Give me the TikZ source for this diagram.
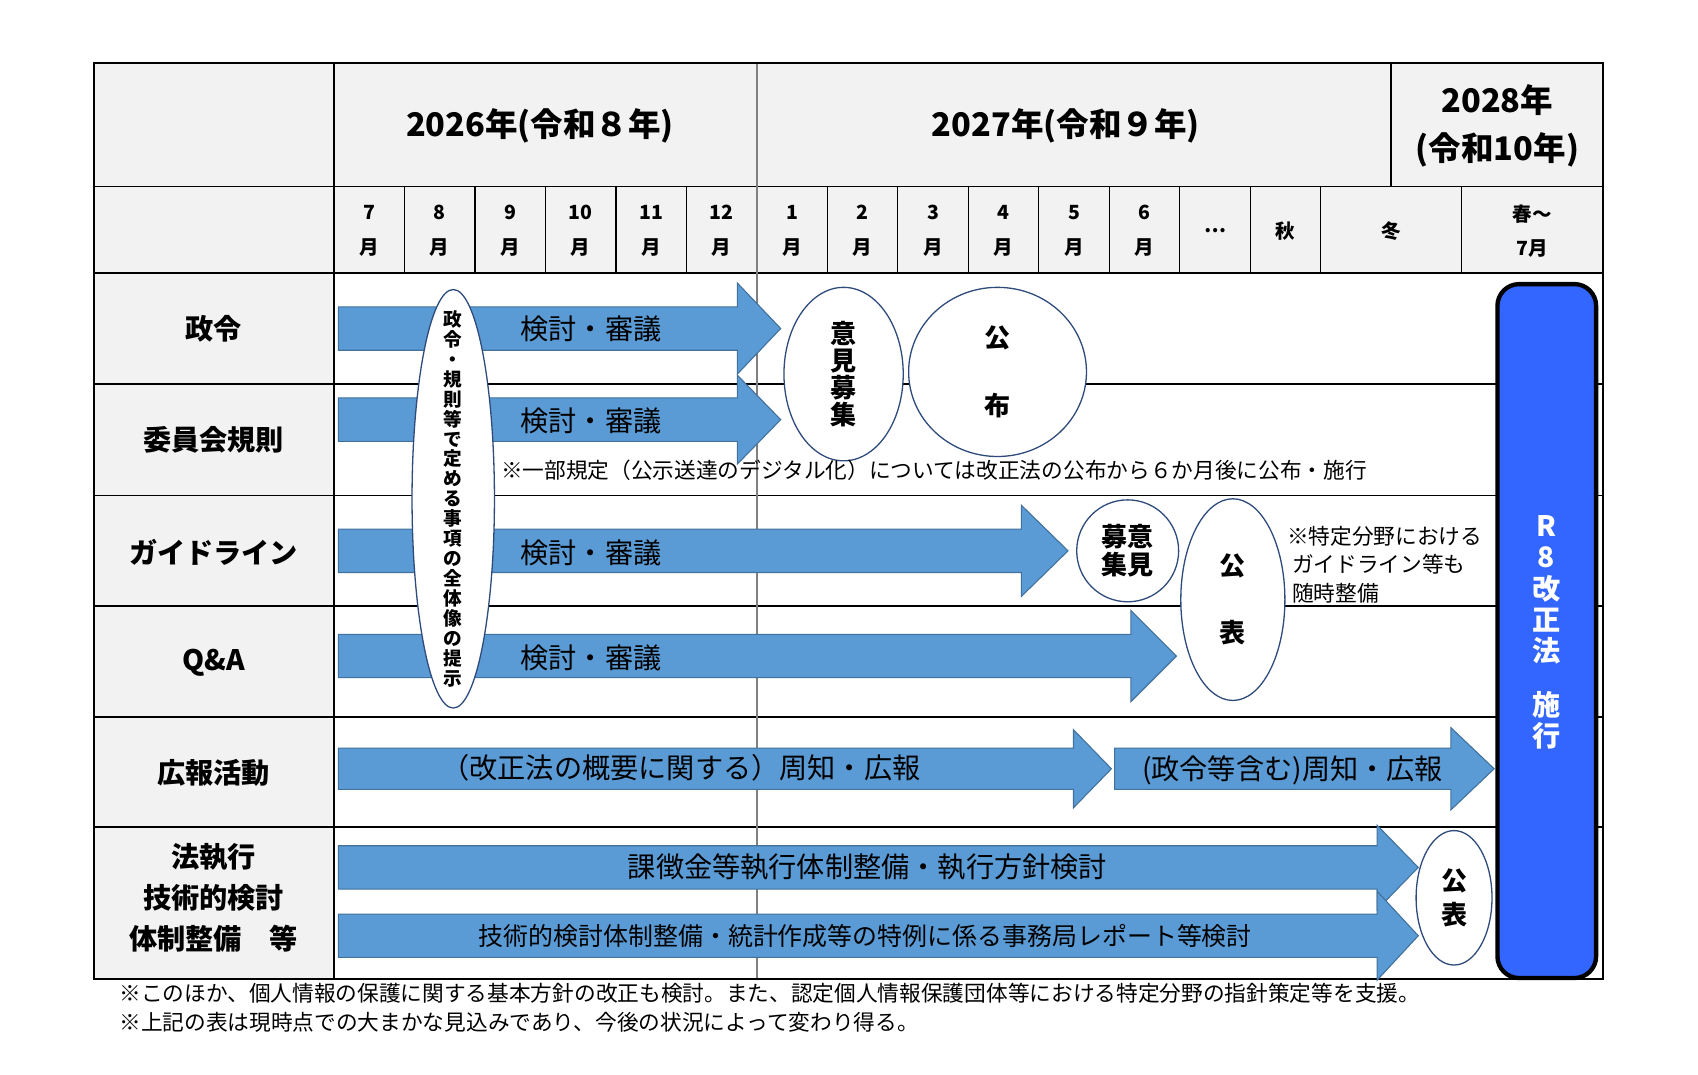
\documentclass[tikz,border=0pt]{standalone}
\usepackage{fontspec}
\setmainfont{Noto Sans CJK JP}
\usetikzlibrary{shapes.geometric}
\definecolor{hdrgray}{HTML}{F2F2F2}
\definecolor{arrowblue}{HTML}{5B9BD5}
\definecolor{arrowedge}{HTML}{41719C}
\definecolor{ovaledge}{HTML}{2F4B7C}
\definecolor{lawblue}{HTML}{3366FF}
% block arrow: start x, body end x, tip x, mid y, half body, half head
\newcommand\blockarrow[6]{%
  \filldraw[fill=arrowblue,draw=arrowedge,line width=0.5pt]
    (#1,#4-#5) -- (#2,#4-#5) -- (#2,#4-#6) -- (#3,#4) -- (#2,#4+#6)
    -- (#2,#4+#5) -- (#1,#4+#5) -- cycle;}
\tikzset{
  head/.style={font=\bfseries\fontsize{15}{19}\selectfont},
  month/.style={font=\bfseries\fontsize{9}{16}\selectfont,align=center},
  rowlabel/.style={font=\bfseries\fontsize{13}{19}\selectfont,align=center},
  task/.style={font=\fontsize{13}{16}\selectfont},
  note/.style={font=\fontsize{10}{13}\selectfont,align=left},
  oval/.style={draw=ovaledge,fill=white,line width=0.6pt,inner sep=0pt},
  ovaltext/.style={font=\bfseries\fontsize{12}{15}\selectfont,align=center},
}
\begin{document}
\begin{tikzpicture}[x=0.5pt,y=-0.5pt]
    \useasboundingbox (0,0) rectangle (1566,991);
    % Header and label column
    \fill[hdrgray] (87,58) rectangle (1478,252);
    \fill[hdrgray] (87,252) rectangle (308,903);
    % Grid lines
    \foreach \y in {354,457,559,661,763} {
        \draw[line width=0.8pt] (87,\y) -- (1478,\y);
    }
    \draw[line width=0.8pt] (87,172) -- (1478,172);
    \draw[line width=0.8pt] (87,252) -- (1478,252);
    \foreach \x in {373,438,503,568,633,763,828,893,958,1023,1088,1153,1218,1348} {
        \draw[line width=0.6pt] (\x,172) -- (\x,252);
    }
    \draw[line width=0.8pt] (308,58) -- (308,903);
    \draw[line width=0.6pt,gray] (698,58) -- (698,903);
    \draw[line width=0.8pt] (1283,58) -- (1283,172);
    \draw[line width=1pt] (87,58) rectangle (1478,903);

    % Years
    \node[head] (y26) at (498,116) {2026年(令和８年)};
    \node[head] (y27) at (983,116) {2027年(令和９年)};
    \node[head,align=center] (y28) at (1381,116) {2028年\\[3pt](令和10年)};

    % Months
    \foreach \m [count=\i from 0] in {7,8,9,10,11,12,1,2,3,4,5,6} {
        \node[month] (m\i) at (340.5+65*\i,213) {\m\\月};
    }
    \node[month] (mdots) at (1120.5,213) {…};
    \node[month] (mfall) at (1185.5,213) {秋};
    \node[month] (mwin) at (1283,213) {冬};
    \node[month] (mspr) at (1413,213) {春〜\\7月};

    % Row labels
    \node[rowlabel] (lseirei) at (197,303) {政令};
    \node[rowlabel] (liinkai) at (197,406) {委員会規則};
    \node[rowlabel] (lguide) at (197,509) {ガイドライン};
    \node[rowlabel] (lqa) at (197,611) {Q\&A};
    \node[rowlabel] (lpr) at (197,713) {広報活動};
    \node[rowlabel] (lenf) at (197,828) {法執行\\技術的検討\\体制整備　等};

    % Arrows
    \blockarrow{312}{680}{720}{303}{20}{42}
    \blockarrow{312}{680}{720}{387}{20}{41}
    \blockarrow{312}{942}{985}{508}{20}{42}
    \blockarrow{312}{1043}{1085}{605}{20}{42}
    \blockarrow{312}{990}{1025}{709}{19}{36}
    \blockarrow{1028}{1338}{1378}{709}{19}{38}
    \blockarrow{312}{1270}{1308}{800}{20}{39}
    \blockarrow{312}{1270}{1308}{863}{20}{41}

    \node[task] (t1) at (545,303) {検討・審議};
    \node[task] (t2) at (545,388) {検討・審議};
    \node[task] (t3) at (545,510) {検討・審議};
    \node[task] (t4) at (545,607) {検討・審議};
    \node[task] (t5) at (628,708) {（改正法の概要に関する）周知・広報};
    \node[task] (t6) at (1192,710) {(政令等含む)周知・広報};
    \node[task] (t7) at (800,800) {課徴金等執行体制整備・執行方針検討};
    \node[task,font=\fontsize{11.5}{14}\selectfont] (t8) at (798,863) {技術的検討体制整備・統計作成等の特例に係る事務局レポート等検討};

    % Ovals
    \node[oval,ellipse,minimum width=38,minimum height=193] (overview) at (418,460) {};
    \node[ovaltext,font=\bfseries\fontsize{8.6}{9.2}\selectfont] at (overview) {政\\令\\・\\規\\則\\等\\で\\定\\め\\る\\事\\項\\の\\全\\体\\像\\の\\提\\示};
    \node[oval,ellipse,minimum width=55,minimum height=80] (pc1) at (778,345) {};
    \node[ovaltext,font=\bfseries\fontsize{12}{12.5}\selectfont] at (pc1) {意\\見\\募\\集};
    \node[oval,ellipse,minimum width=82,minimum height=78] (promul) at (920,343) {};
    \node[ovaltext,font=\bfseries\fontsize{12}{31}\selectfont] at (promul) {公\\布};
    \node[oval,ellipse,minimum width=47,minimum height=47] (pc2) at (1040,508) {};
    \node[ovaltext,font=\bfseries\fontsize{12}{13}\selectfont] at (pc2) {募意\\集見};
    \node[oval,ellipse,minimum width=48,minimum height=93] (pub1) at (1137,553) {};
    \node[ovaltext,font=\bfseries\fontsize{12}{31}\selectfont] at (pub1) {公\\表};
    \node[oval,ellipse,minimum width=35,minimum height=62] (pub2) at (1341,828) {};
    \node[ovaltext,font=\bfseries\fontsize{12}{16}\selectfont] at (pub2) {公\\表};

    % Notes
    \node[note,anchor=west] (n1) at (455,434) {※一部規定（公示送達のデジタル化）については改正法の公布から６か月後に公布・施行};
    \node[note,anchor=north west,font=\fontsize{10}{13.2}\selectfont] (n2) at (1180,478) {※特定分野における\\\ ガイドライン等も\\\ 随時整備};

    % Enforcement
    \filldraw[fill=lawblue,draw=black,line width=2pt,rounded corners=10] (1381,262) rectangle (1472,902);
    \node[font=\bfseries\fontsize{13}{14.5}\selectfont,text=white,align=center] (law) at (1426,583) {R\\8\\改\\正\\法\\[10pt]施\\行};

    % Footnotes
    \node[note,anchor=west] (f1) at (103,916) {※このほか、個人情報の保護に関する基本方針の改正も検討。また、認定個人情報保護団体等における特定分野の指針策定等を支援。};
    \node[note,anchor=west] (f2) at (103,943) {※上記の表は現時点での大まかな見込みであり、今後の状況によって変わり得る。};
\end{tikzpicture}
\end{document}
